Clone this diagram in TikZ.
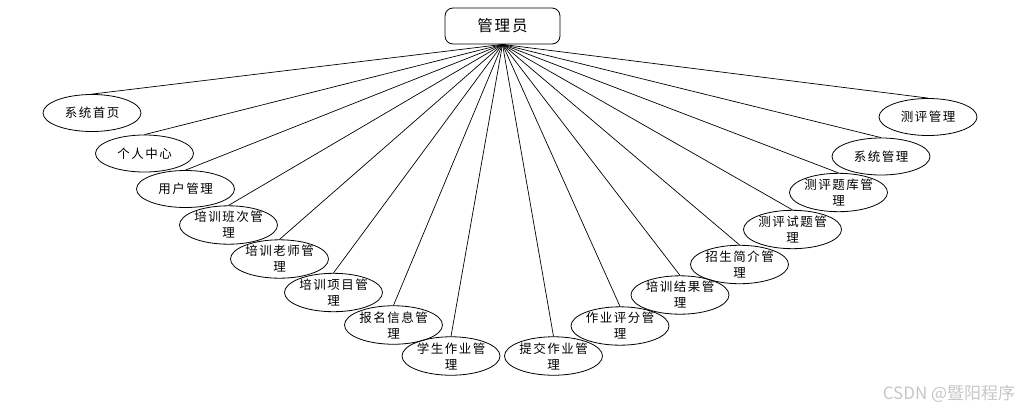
\documentclass[tikz,border=0pt]{standalone}
\usepackage{fontspec}
\newfontfamily\cjk[LetterSpace=12]{Noto Sans CJK SC}
\newfontfamily\cjkplain{Noto Sans CJK SC}
\usetikzlibrary{shapes.geometric}
\begin{document}
\begin{tikzpicture}[x=1pt,y=-1pt,
  leaf/.style={draw, ellipse, minimum width=98pt, minimum height=37pt, inner sep=0pt,
    align=center, line width=0.8pt, font=\cjk\fontsize{12.5}{16}\selectfont},
  rootbox/.style={draw, rounded corners=8pt, minimum width=115pt, minimum height=36pt,
    line width=0.8pt, font=\cjk\fontsize{15.5}{18}\selectfont},
  link/.style={line width=0.7pt},
  mark text/.style={font=\cjkplain\fontsize{17}{19}\selectfont, text=black!22}]
\useasboundingbox (0,0) rectangle (1029,413);
\node[rootbox] (r) at (502.5,26) {管理员};
\node[leaf] (n1) at (92,113) {系统首页};
\node[leaf] (n2) at (144.5,153.5) {个人中心};
\node[leaf] (n3) at (185.5,189) {用户管理};
\node[leaf] (n4) at (228.5,225) {培训班次管\\理};
\node[leaf] (n5) at (279.5,259) {培训老师管\\理};
\node[leaf] (n6) at (333.5,292.5) {培训项目管\\理};
\node[leaf] (n7) at (393.5,325) {报名信息管\\理};
\node[leaf] (n8) at (451,356) {学生作业管\\理};
\node[leaf] (n9) at (553.5,356) {提交作业管\\理};
\node[leaf] (n10) at (620,326) {作业评分管\\理};
\node[leaf] (n11) at (680,295) {培训结果管\\理};
\node[leaf] (n12) at (739.5,264.5) {招生简介管\\理};
\node[leaf] (n13) at (792.5,229.5) {测评试题管\\理};
\node[leaf] (n14) at (838.5,192.5) {测评题库管\\理};
\node[leaf] (n15) at (881,156.5) {系统管理};
\node[leaf] (n16) at (928,117) {测评管理};
\foreach \i in {1,...,16} {\draw[link] (r.south) -- (n\i.north);}
\node[mark text] (wm) at (949,394) {CSDN @暨阳程序};
\end{tikzpicture}
\end{document}
